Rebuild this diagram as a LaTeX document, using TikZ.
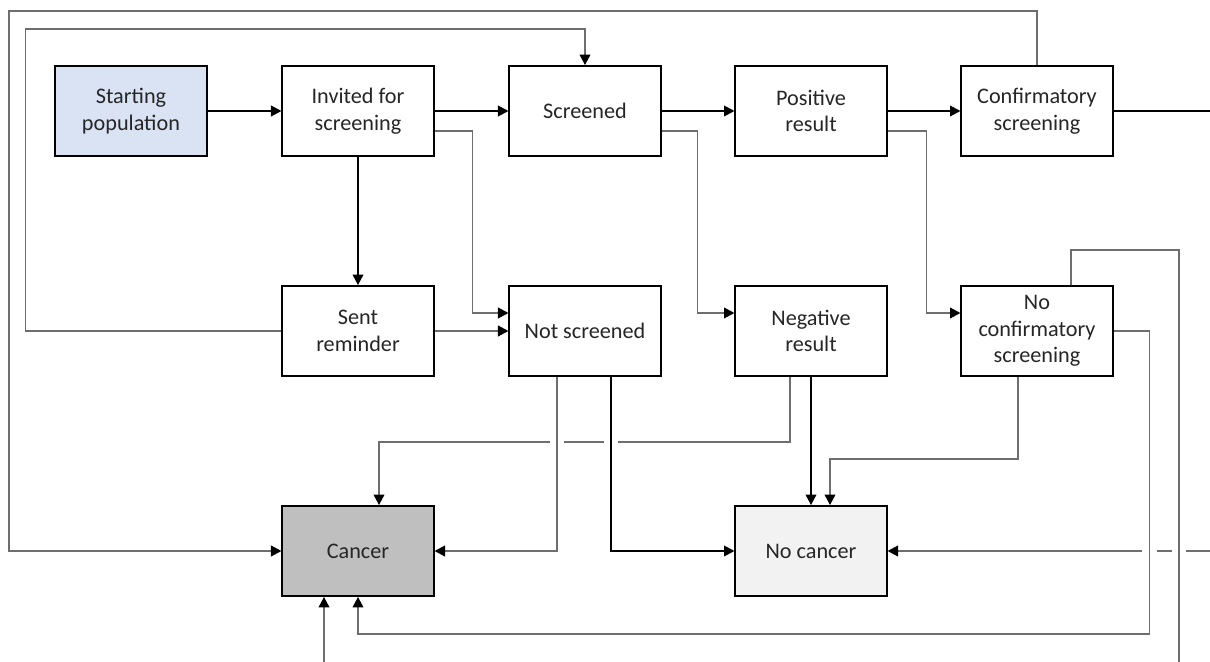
\documentclass[tikz,border=0pt]{standalone}
\usepackage{fontspec}
\setmainfont{Carlito}
\usepackage{tikz}
\usetikzlibrary{arrows.meta,calc,backgrounds}
\definecolor{startblue}{RGB}{218,227,243}
\definecolor{cancergray}{RGB}{191,191,191}
\definecolor{nocancergray}{RGB}{242,242,242}
\definecolor{linkgray}{RGB}{110,110,110}

\begin{document}
\begin{tikzpicture}[
  x=0.025cm, y=-0.025cm,
  font=\fontsize{15.8}{19}\selectfont,
  >={Triangle[length=2.6mm, width=2.7mm, color=black]},
  box/.style={draw=black, line width=1.4pt, fill=white, text=black!85,
    minimum width=3.78cm, minimum height=2.25cm, align=center, inner sep=2pt},
  flow/.style={->, black, line width=0.75pt},
  link/.style={->, linkgray, line width=0.85pt},
  bridge/.style={preaction={draw=white, line width=0.36cm, arrows=-}},
]
  \useasboundingbox (0,0) rectangle (1210,662);

  % top row
  \node[box, fill=startblue] (start) at (131,111) {Starting\\population};
  \node[box] (invited)  at (358,111) {Invited for\\screening};
  \node[box] (screened) at (585,111) {Screened};
  \node[box] (posres)   at (811,111) {Positive\\result};
  \node[box] (confirm)  at (1037,111) {Confirmatory\\screening};

  % middle row
  \node[box] (reminder)  at (358,331) {Sent\\reminder};
  \node[box] (notscr)    at (585,331) {Not screened};
  \node[box] (negres)    at (811,331) {Negative\\result};
  \node[box] (noconfirm) at (1037,331) {No\\confirmatory\\screening};

  % outcomes
  \node[box, fill=cancergray]   (cancer)   at (358,551) {Cancer};
  \node[box, fill=nocancergray] (nocancer) at (811,551) {No cancer};

  % loose ends at the picture edges
  \coordinate (topleft)     at (9,11);
  \coordinate (outright)    at (1210,111);
  \coordinate (inright)     at (1210,551);
  \coordinate (inbottom)    at (324,662);
  \coordinate (outbottom)   at (1179,662);

  \begin{scope}[on background layer]
    \draw[flow] (start) -- (invited);
    \draw[flow] (invited) -- (screened);
    \draw[flow] (invited) -- (reminder);
    \draw[link] ($(invited.east)+(0,20)$) -- ++(38,0) |- ($(notscr.west)+(0,-18)$);
    \draw[link] (reminder) -- (notscr);
    \draw[link] (reminder.west) -- ++(-256,0) |- ($(screened.north)+(0,-36)$) -- (screened.north);

    \draw[flow] (screened) -- (posres);
    \draw[link] ($(screened.east)+(0,20)$) -- ++(36,0) |- ($(negres.west)+(0,-18)$);
    \draw[flow] (posres) -- (confirm);
    \draw[link] ($(posres.east)+(0,20)$) -- ++(39,0) |- ($(noconfirm.west)+(0,-18)$);

    \draw[link] (confirm.north) |- (topleft) |- (cancer.west);
    \draw[flow, -] (confirm) -- (outright);

    % lines that get broken by the crossings below
    \draw[link] ($(negres.south)+(-21,0)$) -- ++(0,65) -| ($(cancer.north)+(21,0)$);
    \draw[link] (inright) -- (nocancer);

    \draw[flow] (negres) -- (nocancer);
    \draw[link] ($(noconfirm.south)+(-19,0)$) -- ++(0,82) -| ($(nocancer.north)+(19,0)$);
    \draw[link] (inbottom) -- (inbottom |- cancer.south);

    % crossing lines, with a white gap round them
    \draw[link, bridge] ($(notscr.south)+(-28,0)$) |- (cancer.east);
    \draw[flow, bridge] ($(notscr.south)+(26,0)$) |- (nocancer.west);
    \draw[link, bridge] (noconfirm.east) -- ++(36,0) -- ++(0,303) -| (cancer.south);
    \draw[link, bridge, -] ($(noconfirm.north)+(34,0)$) -- ++(0,-35) -| (outbottom);
  \end{scope}
\end{tikzpicture}
\end{document}
